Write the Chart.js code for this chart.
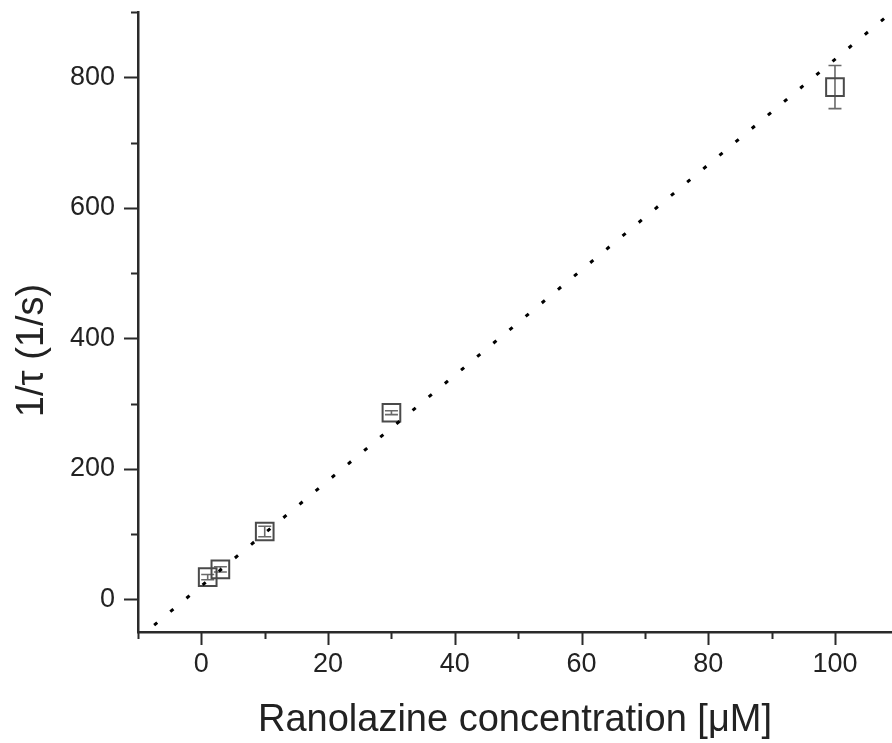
<!DOCTYPE html>
<html>
<head>
<meta charset="utf-8">
<script src="https://cdn.jsdelivr.net/npm/chart.js@4/dist/chart.umd.min.js"></script>
<style>
body{margin:0;background:#fff;overflow:hidden;}
#wrap{width:892px;height:743px;}
</style>
</head>
<body>
<div id="wrap"><canvas id="rateChart" width="892" height="743"></canvas></div>
<script>
// measured rates
const concentrations = [1, 3, 10, 30, 100];
const rates = [34, 46, 104, 286, 785];
const rateErrors = [4, 4, 8, 3, 33];

// linear fit, drawn between its two end points
const fitX = [-10, 109];
const fitY = [-60, 900];

// axis ticks (labelled ones are the majors)
const xTicks = [-10, 0, 10, 20, 30, 40, 50, 60, 70, 80, 90, 100];
const xLabels = [0, 20, 40, 60, 80, 100];
const yTicks = [0, 100, 200, 300, 400, 500, 600, 700, 800, 900];
const yLabels = [0, 200, 400, 600, 800];

const ink = "#2a2a2a";

// error bars behind the squares
const errorBars = {
id: "errorBars",
beforeDatasetsDraw(chart){
const ctx = chart.ctx;
const x = chart.scales.x;
const y = chart.scales.y;
ctx.save();
ctx.strokeStyle = "#6a6a6a";
ctx.lineWidth = 1.6;
concentrations.forEach((c, i) => {
const px = x.getPixelForValue(c);
const top = y.getPixelForValue(rates[i] + rateErrors[i]);
const bot = y.getPixelForValue(rates[i] - rateErrors[i]);
ctx.beginPath();
ctx.moveTo(px, top); ctx.lineTo(px, bot);
ctx.moveTo(px - 6.5, top); ctx.lineTo(px + 6.5, top);
ctx.moveTo(px - 6.5, bot); ctx.lineTo(px + 6.5, bot);
ctx.stroke();
});
ctx.restore();
}
};

// outward tick marks, long for majors and short for minors
const tickMarks = {
id: "tickMarks",
afterDraw(chart){
const ctx = chart.ctx;
const x = chart.scales.x;
const y = chart.scales.y;
const area = chart.chartArea;
ctx.save();
ctx.strokeStyle = ink;
ctx.lineWidth = 2;
ctx.beginPath();
xTicks.forEach(v => {
const px = Math.round(x.getPixelForValue(v)) + 0.5;
const len = xLabels.includes(v) ? 13 : 7;
ctx.moveTo(px, area.bottom); ctx.lineTo(px, area.bottom + len);
});
yTicks.forEach(v => {
const py = Math.round(y.getPixelForValue(v)) + 0.5;
const len = yLabels.includes(v) ? 14 : 7;
ctx.moveTo(area.left, py); ctx.lineTo(area.left - len, py);
});
ctx.stroke();
ctx.restore();
}
};

const font = "'Liberation Sans', Arial, sans-serif";

new Chart(document.getElementById("rateChart"), {

type: "scatter",

data: {
datasets: [
{
label: "fit",
type: "line",
data: fitX.map((v, i) => ({x: v, y: fitY[i]})),
borderColor: "#000",
borderWidth: 3,
borderDash: [4, 17],
pointRadius: 0,
fill: false
},
{
label: "1/tau",
data: concentrations.map((c, i) => ({x: c, y: rates[i]})),
pointStyle: "rect",
pointRadius: 12.5,
pointBorderWidth: 2,
pointBorderColor: "#4a4a4a",
pointBackgroundColor: "rgba(255,255,255,0)"
}
]
},

options: {
responsive: false,
animation: false,
layout: {autoPadding: false, padding: {top: 12, right: 0, bottom: 0, left: 0}},
plugins: {legend: {display: false}, tooltip: {enabled: false}},
scales: {
x: {
type: "linear",
min: -10,
max: 109,
afterBuildTicks: s => { s.ticks = xTicks.map(v => ({value: v})); },
afterFit: s => { s.height = 111; s.paddingLeft = 0; s.paddingRight = 0; },
grid: {display: true, drawOnChartArea: false, drawTicks: false},
border: {display: true, color: ink, width: 2.5},
ticks: {
autoSkip: false,
maxRotation: 0,
padding: 16,
color: "#222",
font: {family: font, size: 27},
callback: v => xLabels.includes(v) ? String(v) : ""
},
title: {
display: true,
text: "Ranolazine concentration [\u03bcM]",
color: "#222",
font: {family: font, size: 38, lineHeight: 1.2},
padding: {top: 0, bottom: 0}
}
},
y: {
type: "linear",
min: -50,
max: 900,
afterBuildTicks: s => { s.ticks = yTicks.map(v => ({value: v})); },
afterFit: s => { s.width = 138; s.paddingTop = 0; s.paddingBottom = 0; },
grid: {display: true, drawOnChartArea: false, drawTicks: false},
border: {display: true, color: ink, width: 2.5},
ticks: {
autoSkip: false,
padding: 23,
color: "#222",
font: {family: font, size: 27},
callback: v => yLabels.includes(v) ? String(v) : ""
},
title: {
display: true,
text: "1/\u03c4 (1/s)\u2002\u2002\u2002",
color: "#222",
font: {family: font, size: 38, lineHeight: 1.2},
padding: {top: 10, bottom: 0}
}
}
}
},

plugins: [errorBars, tickMarks]

});
</script>
</body>
</html>
